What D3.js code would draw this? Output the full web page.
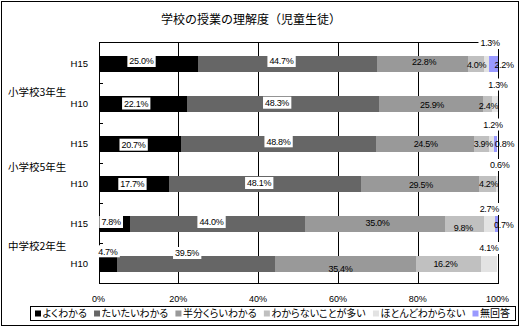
<!DOCTYPE html>
<html>
<head>
<meta charset="utf-8">
<script src="https://cdn.jsdelivr.net/npm/d3@7"></script>
<style>
  html, body { margin: 0; padding: 0; background: #fff; }
  svg { display: block; }
  .jp { font-family: "Noto Sans CJK JP", "Noto Sans", sans-serif; }
  .num { font-family: "Liberation Sans", Arial, sans-serif; }
</style>
</head>
<body>
<svg id="chart" width="527" height="331"></svg>
<script>
// ---- data -------------------------------------------------------------
const groups = ["小学校3年生", "小学校5年生", "中学校2年生"];
const years = ["H15", "H10"];
const seriesNames = ["よくわかる", "たいたいわかる", "半分くらいわかる", "わからないことが多い", "ほとんどわからない", "無回答"];
// one value per bar, in order: 小3 H15, 小3 H10, 小5 H15, 小5 H10, 中2 H15, 中2 H10
const yoku      = [25.0, 22.1, 20.7, 17.7,  7.8,  4.7];
const taitai    = [44.7, 48.3, 48.8, 48.1, 44.0, 39.5];
const hanbun    = [22.8, 25.9, 24.5, 29.5, 35.0, 35.4];
const wakaranai = [ 4.0,  2.4,  3.9,  4.2,  9.8, 16.2];
const hotondo   = [ 1.3,  1.3,  1.2,  0.6,  2.7,  4.1];
const mukaitou  = [ 2.2,  0.0,  0.8,  0.0,  0.7,  0.0];
const xTicks = [0, 20, 40, 60, 80, 100];
const titleText = "学校の授業の理解度（児童生徒）";

// ---- styling / layout ---------------------------------------------------
const colors = ["#000000", "#666666", "#999999", "#c0c0c0", "#e3e3e3", "#9999ff"];
// hand placed label offsets [dx, dy] from the segment centre, per bar and series
const labelNudge = [
  [[-7, -3], [-6, -3], [2, -2], [1, 1], [4, -21], [11, 1]],
  [[-6.5, -0.5], [-6, -1.3], [1, 1], [1, 2], [3, -19.5], [0, 0]],
  [[-6.3, 0.7], [0, -2.7], [1, 0], [2, 0], [1.5, -19.5], [9, -0.5]],
  [[-1.5, 0], [-6, -1], [1, 0.7], [1.5, 0], [3, -19], [0, 0]],
  [[-3, -2], [-6, -2], [2.5, -1], [-1, 4], [0, -15], [7.6, 1]],
  [[0, -12.7], [-9, -11], [-5, 4.7], [-3, 0], [0, -16], [0, 0]]
];
const groupNudge = [8, 3, 2];

const table = [];
groups.forEach(g => years.forEach(yr => table.push({ id: g + "|" + yr, group: g, year: yr })));
const seriesValues = [yoku, taitai, hanbun, wakaranai, hotondo, mukaitou];
table.forEach((row, i) => seriesNames.forEach((k, j) => { row[k] = seriesValues[j][i]; }));

const stacked = d3.stack().keys(seriesNames)(table);

const svg = d3.select("#chart");

// outer frame
svg.append("rect")
  .attr("x", 1.5).attr("y", 1.5).attr("width", 517).attr("height", 324)
  .attr("fill", "#fff").attr("stroke", "#000").attr("stroke-width", 1);

// title
svg.append("text").attr("class", "jp")
  .attr("x", 251).attr("y", 20).attr("dy", "0.36em")
  .attr("text-anchor", "middle").attr("font-size", 12)
  .text(titleText);

const plotTop = 42.5, plotBottom = 283.5;
const x = d3.scaleLinear().domain([0, 100]).range([98.5, 497.5]);
const y = d3.scaleBand().domain(table.map(d => d.id)).range([44, 284])
  .paddingInner(0.6).paddingOuter(0.3);
const bw = y.bandwidth();

// vertical gridlines
svg.append("g").selectAll("line").data(xTicks.slice(1, -1)).join("line")
  .attr("x1", d => Math.round(x(d)) + 0.5).attr("x2", d => Math.round(x(d)) + 0.5)
  .attr("y1", plotTop).attr("y2", plotBottom)
  .attr("stroke", "#000").attr("shape-rendering", "crispEdges");

// plot area frame
svg.append("rect")
  .attr("x", Math.round(x(0)) + 0.5).attr("y", plotTop)
  .attr("width", Math.round(x(100)) - Math.round(x(0))).attr("height", plotBottom - plotTop)
  .attr("fill", "none").attr("stroke", "#000").attr("shape-rendering", "crispEdges");

// inner ticks between bars on the category axis
svg.append("g").selectAll("line").data(table.slice(1)).join("line")
  .attr("x1", Math.round(x(0))).attr("x2", Math.round(x(0)) + 4)
  .attr("y1", d => y(d.id) - (y.step() - bw) / 2 - 0.5)
  .attr("y2", d => y(d.id) - (y.step() - bw) / 2 - 0.5)
  .attr("stroke", "#000").attr("shape-rendering", "crispEdges");

// stacked bars
svg.append("g").selectAll("g").data(stacked).join("g")
  .attr("fill", (s, j) => colors[j])
  .selectAll("rect").data(s => s).join("rect")
  .attr("x", d => x(d[0]))
  .attr("width", d => Math.max(0, x(d[1]) - x(d[0])))
  .attr("y", d => y(d.data.id))
  .attr("height", bw)
  .attr("shape-rendering", "crispEdges");

// value labels
const labelLayer = svg.append("g");
stacked.forEach((s, j) => {
  s.forEach((d, i) => {
    const v = d.data[seriesNames[j]];
    if (!v) return;
    const [dx, dy] = labelNudge[i][j];
    const cx = (x(d[0]) + x(d[1])) / 2 + dx;
    const cy = y(d.data.id) + bw / 2 + dy;
    const g = labelLayer.append("g");
    const t = g.append("text").attr("class", "num")
      .attr("x", cx).attr("y", cy).attr("dy", "0.36em")
      .attr("text-anchor", "middle").attr("font-size", 9)
      .attr("letter-spacing", -0.3)
      .text(v.toFixed(1) + "%");
    if (j < 2 || dy < -10) {
      const b = t.node().getBBox();
      g.insert("rect", "text")
        .attr("x", b.x - 2).attr("y", cy - 6)
        .attr("width", b.width + 4).attr("height", 12)
        .attr("fill", "#fff");
    }
  });
});

// category labels
svg.append("g").selectAll("text").data(table).join("text")
  .attr("class", "num")
  .attr("x", 88).attr("y", d => y(d.id) + bw / 2).attr("dy", "0.36em")
  .attr("text-anchor", "end").attr("font-size", 9.5)
  .text(d => d.year);

svg.append("g").selectAll("text").data(groups).join("text")
  .attr("class", "jp")
  .attr("x", 8)
  .attr("y", (g, k) => (y(g + "|" + years[0]) + y(g + "|" + years[1]) + bw) / 2 + groupNudge[k])
  .attr("dy", "0.36em").attr("font-size", 10.5)
  .text(g => g);

// value axis labels
svg.append("g").selectAll("text").data(xTicks).join("text")
  .attr("class", "num")
  .attr("x", d => x(d)).attr("y", 299).attr("dy", "0.36em")
  .attr("text-anchor", "middle").attr("font-size", 9)
  .text(d => d + "%");

// legend
const legendBox = { x: 30.5, y: 306.5, w: 485, h: 14 };
svg.append("rect")
  .attr("x", legendBox.x).attr("y", legendBox.y)
  .attr("width", legendBox.w).attr("height", legendBox.h)
  .attr("fill", "#fff").attr("stroke", "#000");
const legend = svg.append("g");
const items = seriesNames.map((name, j) => {
  const g = legend.append("g");
  g.append("rect").attr("width", 6).attr("height", 6).attr("y", -3).attr("fill", colors[j]);
  const t = g.append("text").attr("class", "jp").attr("x", 7.5).attr("dy", "0.36em")
    .attr("font-size", 10).style("font-feature-settings", "'palt'").text(name);
  return { g, w: 7.5 + t.node().getComputedTextLength() };
});
const startX = 35, endX = 510;
const total = d3.sum(items, d => d.w);
const gap = (endX - startX - total) / (items.length - 1);
let cx = startX;
items.forEach(it => {
  it.g.attr("transform", `translate(${cx},${legendBox.y + legendBox.h / 2})`);
  cx += it.w + gap;
});
</script>
</body>
</html>
